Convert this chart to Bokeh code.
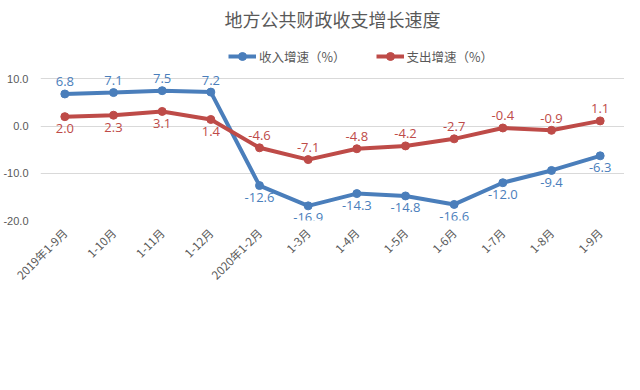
import numpy as np
from bokeh.plotting import figure
from bokeh.models import (ColumnDataSource, FactorRange, Range1d, FixedTicker,
                          Legend, LegendItem, Title, CustomJSTickFormatter)
from bokeh.core.properties import value
from bokeh.embed import file_html
from bokeh.resources import INLINE

categories = ["2019年1-9月", "1-10月", "1-11月", "1-12月", "2020年1-2月", "1-3月",
              "1-4月", "1-5月", "1-6月", "1-7月", "1-8月", "1-9月"]
income = [6.8, 7.1, 7.5, 7.2, -12.6, -16.9, -14.3, -14.8, -16.6, -12.0, -9.4, -6.3]
expense = [2.0, 2.3, 3.1, 1.4, -4.6, -7.1, -4.8, -4.2, -2.7, -0.4, -0.9, 1.1]
y_ticks = [-20, 10, 0, -10]

BLUE = "#4A7EBB"
RED = "#BE4B48"
GRAY = "#595959"
CJK = "Noto Sans CJK SC"

inc = np.array(income)
exp = np.array(expense)
inc_above = inc >= exp
exp_above = exp > inc
OFF = 12

src_inc = ColumnDataSource(dict(x=categories, y=income,
                                lab=["%.1f" % v for v in income],
                                off=np.where(inc_above, -OFF, OFF)))
src_exp = ColumnDataSource(dict(x=categories, y=expense,
                                lab=["%.1f" % v for v in expense],
                                off=np.where(exp_above, -OFF, OFF)))

p = figure(width=624, height=290,
           x_range=FactorRange(factors=categories, range_padding=0),
           y_range=Range1d(-20, 19.4),
           output_backend="svg", toolbar_location=None,
           min_border_left=31, min_border_right=0, min_border_top=0,
           min_border_bottom=0)

p.add_layout(Title(text="地方公共财政收支增长速度", align="center",
                   text_font=CJK, text_font_size="18px", text_color=GRAY,
                   text_font_style="normal", standoff=6), "above")

p.outline_line_color = None
p.xgrid.grid_line_color = None
p.ygrid.grid_line_color = "#D9D9D9"
p.ygrid.grid_line_width = 1

p.yaxis.ticker = FixedTicker(ticks=y_ticks)
p.yaxis.formatter = CustomJSTickFormatter(code="return tick.toFixed(1);")
p.yaxis.axis_line_color = None
p.yaxis.major_tick_line_color = None
p.yaxis.minor_tick_line_color = None
p.yaxis.major_label_text_font = "Liberation Sans"
p.yaxis.major_label_text_font_size = "11px"
p.yaxis.major_label_text_color = GRAY
p.yaxis.major_label_standoff = 6

p.xaxis.axis_line_color = None
p.xaxis.major_tick_line_color = None
p.xaxis.minor_tick_line_color = None
p.xaxis.major_label_orientation = np.pi / 4
p.xaxis.major_label_text_font = CJK
p.xaxis.major_label_text_font_size = "11.5px"
p.xaxis.major_label_text_color = GRAY
p.xaxis.major_label_standoff = 4

l1 = p.line("x", "y", source=src_inc, line_color=BLUE, line_width=4)
s1 = p.scatter("x", "y", source=src_inc, marker="circle", size=8,
               fill_color=BLUE, line_color=BLUE)
l2 = p.line("x", "y", source=src_exp, line_color=RED, line_width=4)
s2 = p.scatter("x", "y", source=src_exp, marker="circle", size=8,
               fill_color=RED, line_color=RED)

p.text("x", "y", text="lab", source=src_inc, y_offset="off",
       text_align="center", text_baseline="middle", text_color=BLUE,
       text_font=value("Open Sans"), text_font_size="13px")
p.text("x", "y", text="lab", source=src_exp, y_offset="off",
       text_align="center", text_baseline="middle", text_color=RED,
       text_font=value("Open Sans"), text_font_size="13px")

legend = Legend(items=[LegendItem(label="收入增速（%）", renderers=[l1, s1]),
                       LegendItem(label="支出增速（%）", renderers=[l2, s2])],
                orientation="horizontal", location=(186, 152),
                border_line_alpha=0, background_fill_alpha=0,
                label_text_font=CJK, label_text_font_size="12.5px",
                label_text_color=GRAY, glyph_width=28, spacing=30,
                margin=0, padding=2, label_standoff=3)
p.add_layout(legend, "center")

open("out.html", "w").write(file_html(p, INLINE))
